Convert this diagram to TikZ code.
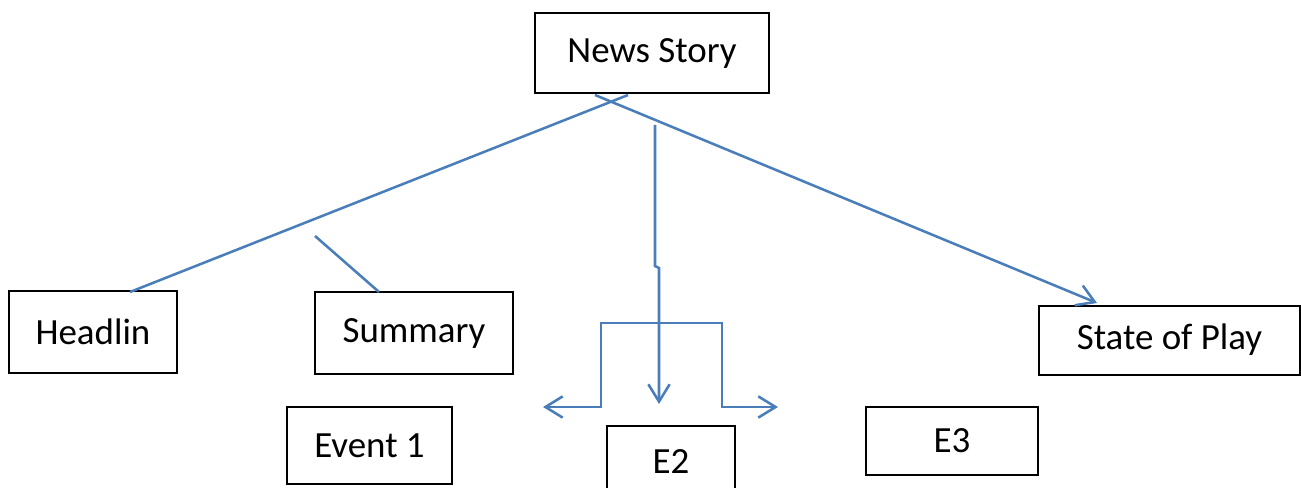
\documentclass[tikz,border=0pt]{standalone}
\usepackage{fontspec}
\setmainfont{Carlito}
\usepackage{tikz}
\usetikzlibrary{arrows.meta}
\usetikzlibrary{positioning}
\definecolor{linkblue}{HTML}{4A7EBB}
\def\px{0.75pt}
\tikzstyle{box}=[draw=black, line width=1.5pt, rectangle, inner sep=0pt,
                font=\fontsize{27.7}{33}\selectfont]
\tikzstyle{link}=[draw=linkblue, line width=1.9pt]
\tikzstyle{tip}=[-{Straight Barb[length=13pt,width=16pt,line width=1.9pt]}]

\begin{document}
\begin{tikzpicture}[x=\px,y=-\px]
\useasboundingbox (0,0) rectangle (1301,488);

\node[box, minimum width=234*\px, minimum height=80*\px] at (652,53) (story) {News Story};
\node[box, minimum width=168*\px, minimum height=82*\px] at (93,332) (headlin) {Headlin};
\node[box, minimum width=198*\px, minimum height=82*\px] at (414,333) (summary) {Summary};
\node[box, minimum width=261*\px, minimum height=69*\px] at (1169.5,340) (play) {State of Play};
\node[box, minimum width=165*\px, minimum height=77*\px] at (369.5,445.5) (event1) {Event 1};
\node[box, minimum width=128*\px, minimum height=72*\px] at (671,462) (e2) {E2};
\node[box, minimum width=172*\px, minimum height=68*\px] at (952,441) (e3) {E3};

% free ends of the connectors
\coordinate (hstart) at (628,95);
\coordinate (hend) at (130,292);
\coordinate (pstart) at (595,95);
\coordinate (pend) at (1097,303);
\coordinate (sstart) at (315,236);
\coordinate (send) at (379,292);
\coordinate (vstart) at (655,125);
\coordinate (vend) at (659,404);
\coordinate (bleft) at (543,407);
\coordinate (bright) at (778,407);

\draw[link] (hstart) -- (hend);
\draw[link, tip] (pstart) -- (pend);
\draw[link] (sstart) -- (send);
\draw[link, tip] (vstart) -- (655,266) -- (659,268) -- (vend);
\draw[link, tip] (661,323) -- (601,323) -- (601,407) -- (bleft);
\draw[link, tip] (658,323) -- (722,323) -- (722,407) -- (bright);
\end{tikzpicture}
\end{document}
